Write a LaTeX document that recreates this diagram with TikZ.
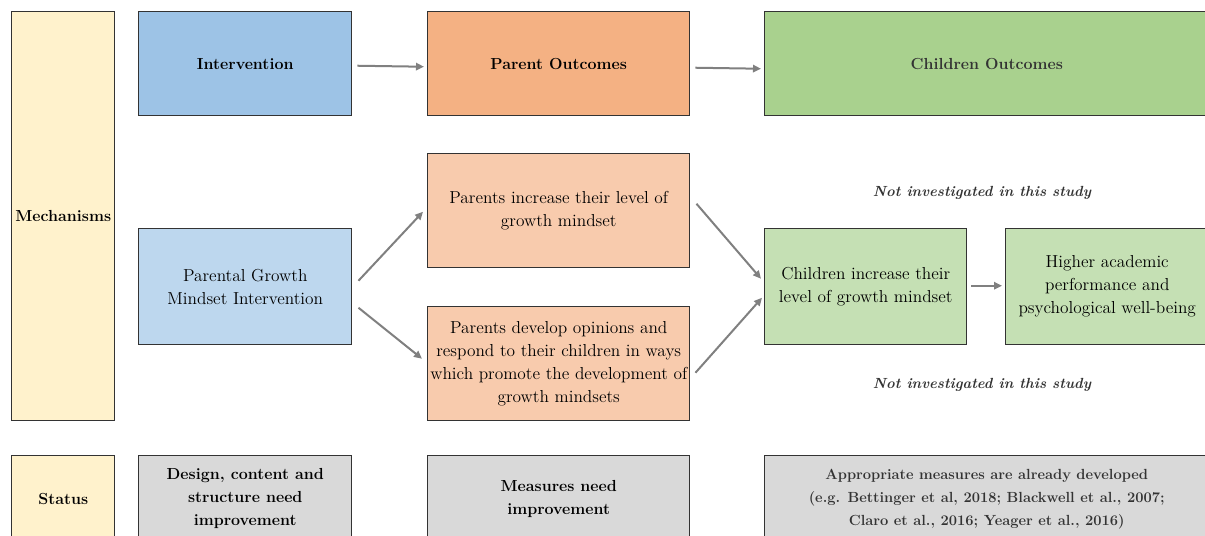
\documentclass[tikz,border=0pt]{standalone}
\usepackage{fontspec}
\usetikzlibrary{positioning, calc, arrows.meta}
\definecolor{mechyel}{HTML}{FFF2CC}
\definecolor{intblue}{HTML}{9DC3E6}
\definecolor{parorg}{HTML}{F4B183}
\definecolor{chgrn}{HTML}{A9D18E}
\definecolor{lblue}{HTML}{BDD7EE}
\definecolor{lorg}{HTML}{F8CBAD}
\definecolor{lgrn}{HTML}{C5E0B4}
\definecolor{stgray}{HTML}{D9D9D9}
\tikzstyle{box}=[draw=black!80,line width=1.1pt,anchor=north west,align=center,inner sep=1pt,font=\fontsize{13}{17.25}\selectfont]
\tikzstyle{hd}=[box,font=\fontsize{12}{17.25}\selectfont\bfseries]
\tikzstyle{lnk}=[draw=black!50,line width=1.5pt,-{Triangle[length=6pt,width=5.5pt]}]
\tikzstyle{note}=[font=\fontsize{11}{17.25}\selectfont\bfseries\itshape,text=black!80]

\begin{document}
\begin{tikzpicture}[x=0.75pt,y=-0.75pt]
    \useasboundingbox (0,0) rectangle (1205,535);
    % row labels
    \node[hd,fill=mechyel,minimum width=77.25pt,minimum height=306.75pt] (mech) at (11,11) {Mechanisms};
    \node[hd,fill=mechyel,minimum width=77.25pt,minimum height=64.5pt] (stat) at (11,455) {Status};
    % headers
    \node[hd,fill=intblue,minimum width=159.75pt,minimum height=78pt] (int) at (138,11) {Intervention};
    \node[hd,fill=parorg,minimum width=196.5pt,minimum height=78pt] (pout) at (427,11) {Parent Outcomes};
    \node[hd,fill=chgrn,text=black!80,minimum width=333pt,minimum height=78pt] (cout) at (764,11) {Children Outcomes};
    % mechanisms
    \node[box,fill=lblue,minimum width=159.75pt,minimum height=87pt] (pgmi) at (138,228) {Parental Growth\\Mindset Intervention};
    \node[box,fill=lorg,minimum width=196.5pt,minimum height=85.5pt] (pinc) at (427,153) {Parents increase their level of\\growth mindset};
    \node[box,fill=lorg,minimum width=196.5pt,minimum height=85.5pt] (pdev) at (427,306) {Parents develop opinions and\\respond to their children in ways\\which promote the development of\\growth mindsets};
    \node[box,fill=lgrn,minimum width=151.5pt,minimum height=87pt] (cinc) at (764,228) {Children increase their\\level of growth mindset};
    \node[box,fill=lgrn,minimum width=152.25pt,minimum height=87pt] (high) at (1005,228) {Higher academic\\performance and\\psychological well-being};
    \node[note] (ni1) at (982,193) {Not investigated in this study};
    \node[note] (ni2) at (982,385) {Not investigated in this study};
    % status
    \node[hd,fill=stgray,minimum width=159.75pt,minimum height=64.5pt] (des) at (138,455) {Design, content and\\structure need\\improvement};
    \node[hd,fill=stgray,minimum width=196.5pt,minimum height=64.5pt] (meas) at (427,455) {Measures need\\improvement};
    \node[hd,fill=stgray,text=black!80,font=\fontsize{11}{17.25}\selectfont\bfseries,minimum width=333pt,minimum height=64.5pt] (appr) at (764,455) {Appropriate measures are already developed\\(e.g. Bettinger et al, 2018; Blackwell et al., 2007;\\Claro et al., 2016; Yeager et al., 2016)};
    % links
    \foreach \a/\da/\b/\db in {int.east/{5,2}/pout.west/{-3,3}, pout.east/{5,4}/cout.west/{-3,5},
        pgmi.east/{6,-6}/pinc.west/{-4,1}, pgmi.east/{6,21}/pdev.west/{-5,-5},
        pinc.east/{6,-7}/cinc.west/{-3,-8}, pdev.east/{5,9}/cinc.west/{-2,11},
        cinc.east/{4,-1}/high.west/{-3,-1}}
        \draw[lnk] ($(\a)+(\da)$) -- ($(\b)+(\db)$);
\end{tikzpicture}
\end{document}
